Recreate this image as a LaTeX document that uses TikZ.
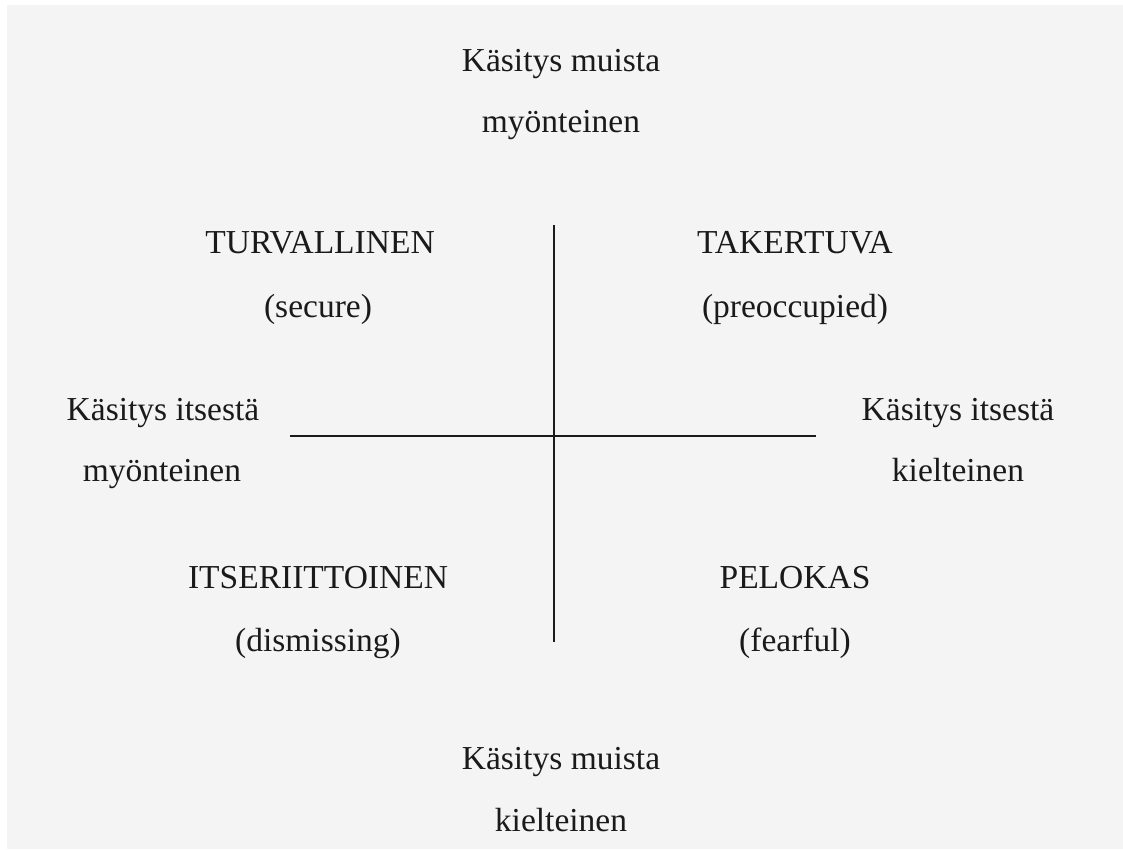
\documentclass[tikz,border=0pt]{standalone}
\usepackage{fontspec}
\setmainfont{Liberation Serif}
\definecolor{bggray}{HTML}{F4F4F4}
\definecolor{ink}{HTML}{1A1A1A}
\begin{document}
\begin{tikzpicture}[x=1pt,y=-1pt,
  lbl/.style={anchor=base,inner sep=0pt,text=ink,font=\fontsize{33.5}{40}\selectfont},
  axis/.style={draw=ink,line width=1.6pt}]
\useasboundingbox (0,0) rectangle (1123,849);
\fill[white] (0,0) rectangle (1123,849);
\fill[bggray] (7,5) rectangle (1123,849);
% axes
\coordinate (vtop) at (554,225);
\coordinate (vbot) at (554,642);
\coordinate (hleft) at (290,436);
\coordinate (hright) at (816,436);
\draw[axis] (vtop) -- (vbot);
\draw[axis] (hleft) -- (hright);
% top / bottom
\node[lbl] (mt1) at (561,71) {Käsitys muista};
\node[lbl] (mt2) at (561,132) {myönteinen};
\node[lbl] (mb1) at (561,769) {Käsitys muista};
\node[lbl] (mb2) at (561,831) {kielteinen};
% left / right
\node[lbl] (il1) at (163,420) {Käsitys itsestä};
\node[lbl] (il2) at (162,481) {myönteinen};
\node[lbl] (ir1) at (958,420) {Käsitys itsestä};
\node[lbl] (ir2) at (958,481) {kielteinen};
% quadrants
\node[lbl] (q1a) at (320,253) {TURVALLINEN};
\node[lbl] (q1b) at (318,317) {(secure)};
\node[lbl] (q2a) at (795,253) {TAKERTUVA};
\node[lbl] (q2b) at (795,317) {(preoccupied)};
\node[lbl] (q3a) at (318,588) {ITSERIITTOINEN};
\node[lbl] (q3b) at (318,651) {(dismissing)};
\node[lbl] (q4a) at (795,588) {PELOKAS};
\node[lbl] (q4b) at (795,651) {(fearful)};
\end{tikzpicture}
\end{document}
